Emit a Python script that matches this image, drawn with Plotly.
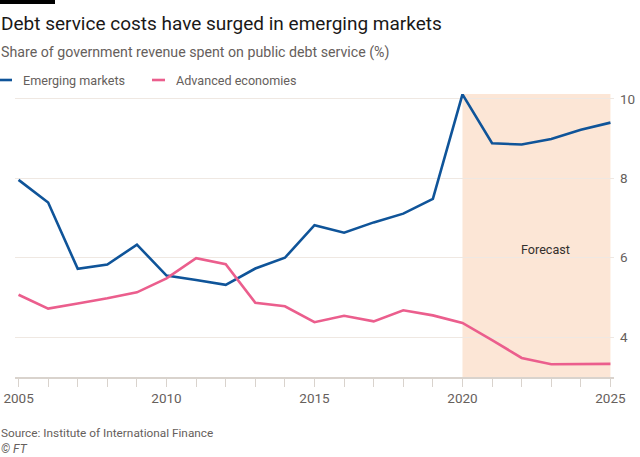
import plotly.graph_objects as go

years = list(range(2005, 2026))
emerging = [7.96, 7.39, 5.72, 5.83, 6.33, 5.55, 5.44, 5.32, 5.73, 6.00, 6.82,
            6.63, 6.89, 7.11, 7.48, 10.11, 8.88, 8.85, 8.99, 9.22, 9.40]
advanced = [5.07, 4.72, 4.85, 4.98, 5.13, 5.48, 5.99, 5.84, 4.87, 4.78, 4.38,
            4.54, 4.40, 4.68, 4.55, 4.36, 3.93, 3.48, 3.32, 3.33, 3.33]
series_names = ["Emerging markets", "Advanced economies"]
forecast_start, forecast_end = 2020, 2025
y_ticks = [4, 6, 8, 10]
x_ticks = [2005, 2010, 2015, 2020, 2025]

BLUE = "#0f5499"
PINK = "#eb5e8d"
GREY = "#66605c"
FONT = "Roboto"

fig = go.Figure()
fig.add_trace(go.Scatter(x=years, y=emerging, mode="lines", name=series_names[0],
                         line=dict(color=BLUE, width=2.6), showlegend=False))
fig.add_trace(go.Scatter(x=years, y=advanced, mode="lines", name=series_names[1],
                         line=dict(color=PINK, width=2.6), showlegend=False))

# Forecast shading
fig.add_shape(type="rect", xref="x", yref="paper", x0=forecast_start, x1=forecast_end,
              y0=0, y1=1, fillcolor="#fce6d6", line=dict(width=0), layer="below")

L, R, T, B = 15, 26, 94, 80
W, H = 640, 457
pw, ph = W - L - R, H - T - B

def px(x):
    return (x - L) / pw

def py(y):
    return 1 - (y - T) / ph

# Top black bar
fig.add_shape(type="rect", xref="paper", yref="paper", x0=px(0), x1=px(55),
              y0=py(4), y1=py(0), fillcolor="black", line=dict(width=0))

# Custom legend
fig.add_shape(type="line", xref="paper", yref="paper", x0=px(0), x1=px(12),
              y0=py(80), y1=py(80), line=dict(color=BLUE, width=2.6))
fig.add_shape(type="line", xref="paper", yref="paper", x0=px(152), x1=px(165),
              y0=py(80), y1=py(80), line=dict(color=PINK, width=2.6))

ann = [
    dict(text="Debt service costs have surged in emerging markets", x=px(-1), y=py(23),
         font=dict(size=19, color="#1a1817", family=FONT)),
    dict(text="Share of government revenue spent on public debt service (%)", x=px(-1), y=py(52),
         font=dict(size=14.2, color=GREY, family=FONT)),
    dict(text=series_names[0], x=px(21), y=py(80), font=dict(size=12.6, color=GREY, family=FONT)),
    dict(text=series_names[1], x=px(174), y=py(80), font=dict(size=12.6, color=GREY, family=FONT)),
    dict(text="Source: Institute of International Finance", x=px(-1), y=py(433),
         font=dict(size=11.8, color=GREY, family=FONT)),
    dict(text="<i>© FT</i>", x=px(-1), y=py(449), font=dict(size=12, color=GREY, family=FONT)),
]
for a in ann:
    fig.add_annotation(xref="paper", yref="paper", xanchor="left", yanchor="middle",
                       showarrow=False, **a)

fig.add_annotation(x=2022.8, y=6.2, xref="x", yref="y", text="Forecast", showarrow=False,
                   font=dict(size=12.6, color="#33302e", family=FONT))

fig.update_layout(
    width=W, height=H,
    margin=dict(l=L, r=R, t=T, b=B, autoexpand=False),
    paper_bgcolor="white", plot_bgcolor="white",
    font=dict(family=FONT, color=GREY, size=13),
    xaxis=dict(range=[2004.88, 2025.12], tickvals=x_ticks, ticks="outside", ticklen=8,
               tickcolor="#d9d3cd", tickwidth=1, showgrid=False, zeroline=False,
               showline=True, linecolor="#d9d3cd", linewidth=2, automargin=False,
               minor=dict(dtick=1, tick0=2005, ticks="outside", ticklen=8,
                          tickcolor="#d9d3cd", tickwidth=1, showgrid=False),
               tickfont=dict(size=13.5, color=GREY, family=FONT)),
    yaxis=dict(range=[3.0, 10.12], tickvals=y_ticks, side="right", showgrid=True,
               gridcolor="#efe8e2", gridwidth=1, zeroline=False, ticks="",
               ticklabelstandoff=5,
               automargin=False, tickfont=dict(size=13.5, color=GREY, family=FONT)),
)

fig.write_html("out.html", config={"displayModeBar": False},
               post_script="document.body.style.margin='0';document.body.style.padding='0';")
